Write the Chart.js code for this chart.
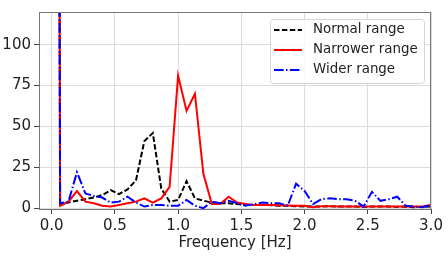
<!DOCTYPE html>
<html>
<head>
<meta charset="utf-8">
<script src="https://cdn.jsdelivr.net/npm/chart.js@4"></script>
<style>
  html, body { margin: 0; padding: 0; background: #fff; }
  #wrap { width: 448px; height: 258px; }
</style>
</head>
<body>
<div id="wrap"><canvas id="specChart"></canvas></div>
<script>
// Spectrum values
const freqs = [0, 0.067, 0.133, 0.2, 0.267, 0.333, 0.4, 0.467, 0.533, 0.6,
    0.667, 0.733, 0.8, 0.867, 0.933, 1.0, 1.067, 1.133, 1.2, 1.267,
    1.333, 1.4, 1.467, 1.533, 1.6, 1.667, 1.733, 1.8, 1.867, 1.933,
    2.0, 2.067, 2.133, 2.2, 2.267, 2.333, 2.4, 2.467, 2.533, 2.6,
    2.667, 2.733, 2.8, 2.867, 2.933, 3.0];

const normalRange = [2000, 2.6, 3.5, 4.6, 5.5, 6.5, 8, 11, 8.6, 11.5,
    17, 41, 46, 12, 4, 5, 16.5, 6, 4.6, 3.4,
    3, 3, 2.5, 2, 2, 2, 1.8, 1.5, 1.5, 1.2,
    1, 1, 1, 1.2, 1, 1, 1, 0.8, 1, 1,
    1, 0.8, 0.8, 0.6, 0.8, 1];

const narrowerRange = [2000, 1.4, 4, 10.5, 4, 3, 1.5, 1, 2, 3,
    4, 6, 3.4, 6, 13, 81, 59.5, 70, 21, 2.5,
    2.5, 7, 3.5, 2.5, 2, 2, 2, 1.8, 1.6, 1.5,
    1.5, 0.6, 1.2, 1.2, 1, 1, 1, 1, 1, 1,
    1, 1, 1, 1, 1, 2];

const widerRange = [2000, 3, 4, 22, 9, 7.5, 6.5, 3.4, 4, 7,
    3.5, 1, 2, 2, 1.4, 1.5, 5, 1.5, 0, 4,
    3, 4.5, 3, 1.5, 2.5, 3.4, 3, 3, 1.5, 15,
    10.5, 2.5, 5.5, 6, 5.5, 5.5, 4.5, 1, 10, 4.5,
    5.5, 7, 1.5, 1, 0.6, 2];

const xTicks = [0, 0.5, 1, 1.5, 2, 2.5, 3];
const yTicks = [0, 25, 50, 75, 100];
const legendOrder = ['Normal range', 'Narrower range', 'Wider range'];

const FONT = 'DejaVu Sans';

function toPoints(values) {
    return values.map((v, i) => ({ x: freqs[i], y: v }));
}

// matplotlib-like legend drawn inside the plot, top right
const legendPlugin = {
    id: 'insideLegend',
    afterDraw(chart) {
        const ctx = chart.ctx;
        const area = chart.chartArea;
        const boxW = 154, boxH = 64;
        const bx = area.right - 7 - boxW;
        const by = area.top + 7;
        ctx.save();
        ctx.beginPath();
        ctx.roundRect(bx + 0.5, by + 0.5, boxW, boxH, 3);
        ctx.fillStyle = 'rgba(255,255,255,0.8)';
        ctx.fill();
        ctx.strokeStyle = '#d6d6d6';
        ctx.lineWidth = 1;
        ctx.stroke();

        ctx.font = '13.4px "' + FONT + '"';
        ctx.textBaseline = 'middle';
        chart.data.datasets.forEach(ds => {
            const row = legendOrder.indexOf(ds.label);
            const y = by + 11 + row * 20;
            ctx.beginPath();
            ctx.setLineDash(ds.borderDash || []);
            ctx.strokeStyle = ds.borderColor;
            ctx.lineWidth = ds.borderWidth;
            ctx.moveTo(bx + 4, y);
            ctx.lineTo(bx + 32, y);
            ctx.stroke();
            ctx.setLineDash([]);
            ctx.fillStyle = '#222';
            ctx.fillText(ds.label, bx + 43, y);
        });
        ctx.restore();
    }
};

// box around the plot area
const framePlugin = {
    id: 'frame',
    afterDatasetsDraw(chart) {
        const ctx = chart.ctx;
        const a = chart.chartArea;
        ctx.save();
        ctx.strokeStyle = '#777';
        ctx.lineWidth = 1;
        ctx.strokeRect(a.left + 0.5, a.top + 0.5, a.right - a.left - 1, a.bottom - a.top);
        ctx.restore();
    }
};

const ctx = document.getElementById('specChart').getContext('2d');
new Chart(ctx, {
    type: 'line',
    data: {
        datasets: [
            {
                label: 'Wider range',
                data: toPoints(widerRange),
                borderColor: '#0000ff',
                borderWidth: 2,
                borderDash: [9.6, 2.4, 1.5, 2.4],
                order: 0
            },
            {
                label: 'Normal range',
                data: toPoints(normalRange),
                borderColor: '#000000',
                borderWidth: 2,
                borderDash: [5.5, 2.4],
                order: 2
            },
            {
                label: 'Narrower range',
                data: toPoints(narrowerRange),
                borderColor: '#ff0000',
                borderWidth: 2,
                order: 1
            }
        ]
    },
    options: {
        responsive: true,
        maintainAspectRatio: false,
        animation: false,
        devicePixelRatio: 1,
        elements: {
            point: { radius: 0 },
            line: { tension: 0, fill: false, borderCapStyle: 'butt' }
        },
        datasets: { line: { clip: 0 } },
        layout: { padding: { top: 11, right: 17, left: 0, bottom: 0 } },
        plugins: {
            legend: { display: false },
            tooltip: { enabled: false }
        },
        scales: {
            x: {
                type: 'linear',
                min: -0.1,
                max: 3.0,
                afterBuildTicks: scale => { scale.ticks = xTicks.map(v => ({ value: v })); },
                afterFit: scale => { scale.height = 49; },
                grid: { color: '#dcdcdc', lineWidth: 1, tickLength: 5, tickColor: '#444' },
                border: { display: false },
                ticks: {
                    padding: 3,
                    color: '#222',
                    font: { family: FONT, size: 15 },
                    maxRotation: 0,
                    callback: v => v.toFixed(1)
                },
                title: {
                    display: true,
                    text: 'Frequency [Hz]',
                    color: '#222',
                    font: { family: FONT, size: 15 },
                    padding: { top: 0, bottom: 6 }
                }
            },
            y: {
                min: -0.5,
                max: 120,
                afterBuildTicks: scale => { scale.ticks = yTicks.map(v => ({ value: v })); },
                afterFit: scale => { scale.width = 39; },
                grid: { color: '#dcdcdc', lineWidth: 1, tickLength: 5, tickColor: '#444' },
                border: { display: false },
                ticks: {
                    padding: 3,
                    color: '#222',
                    font: { family: FONT, size: 15 }
                }
            }
        }
    },
    plugins: [framePlugin, legendPlugin]
});
</script>
</body>
</html>
